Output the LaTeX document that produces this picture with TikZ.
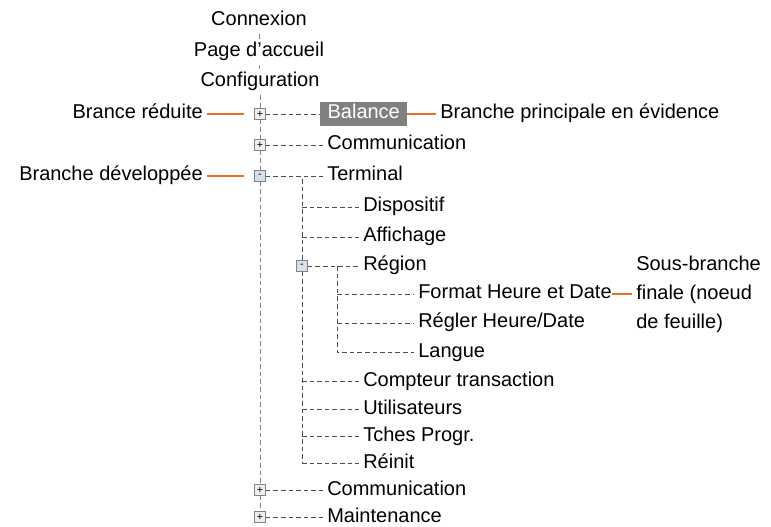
\documentclass[tikz,border=0pt]{standalone}
\usepackage{fontspec}
\setmainfont{Liberation Sans}
\definecolor{leadorange}{RGB}{233,113,35}
\definecolor{trunkgray}{RGB}{130,130,130}
\definecolor{togfill}{RGB}{238,238,238}
\definecolor{minusfill}{RGB}{214,224,236}
\definecolor{hilite}{RGB}{128,128,128}
\begin{document}
\begin{tikzpicture}[x=0.75pt,y=-0.75pt,
  lbl/.style={anchor=west,inner sep=3pt,text height=10.5pt,text depth=3pt,font=\fontsize{15}{17}\selectfont},
  tog/.style={draw=trunkgray,fill=togfill,minimum size=8.2pt,inner sep=0pt,font=\fontsize{8}{8}\selectfont},
  trunk/.style={trunkgray,line width=0.6pt,dash pattern=on 3.5pt off 2.2pt},
  twig/.style={black!70,line width=0.6pt,dash pattern=on 3.5pt off 2.2pt},
  lead/.style={leadorange,line width=1.5pt}]
\useasboundingbox (0,0) rectangle (771,527);
% menu items above the tree
\node[lbl,anchor=center] (cnx) at (259,21) {Connexion};
\node[lbl,anchor=center] (acc) at (259,52) {Page d’accueil};
\node[lbl,anchor=center] (cfg) at (260,82) {Configuration};
% expand / collapse boxes
\node[tog] (b1) at (260,114) {+};
\node[tog] (b2) at (260,145) {+};
\node[tog,fill=minusfill] (b3) at (260,176) {-};
\node[tog] (b4) at (260,490) {+};
\node[tog] (b5) at (260,517) {+};
\node[tog,fill=minusfill] (b6) at (302,266) {-};
% first level
\node[lbl,fill=hilite,text=white,inner xsep=5.5pt,inner ysep=2pt] (bal) at (320,114) {Balance};
\node[lbl] (com1) at (323,145) {Communication};
\node[lbl] (term) at (323,176) {Terminal};
\node[lbl] (com2) at (323,490) {Communication};
\node[lbl] (mnt) at (323,517) {Maintenance};
% second level
\node[lbl] (dispo) at (359,207) {Dispositif};
\node[lbl] (affi) at (359,237) {Affichage};
\node[lbl] (reg) at (359,266) {Région};
\node[lbl] (cpt) at (359,381) {Compteur transaction};
\node[lbl] (util) at (359,409) {Utilisateurs};
\node[lbl] (tch) at (359,436) {Tches Progr.};
\node[lbl] (rei) at (359,463) {Réinit};
% third level
\node[lbl] (fmt) at (414,294) {Format Heure et Date};
\node[lbl] (rgl) at (414,323) {Régler Heure/Date};
\node[lbl] (lng) at (414,352) {Langue};
% callouts
\node[lbl,anchor=east] (red) at (207,114) {Brance réduite};
\node[lbl,anchor=east] (dev) at (207,176) {Branche développée};
\node[lbl] (prin) at (436,114) {Branche principale en évidence};
\node[anchor=west,inner sep=3pt,align=left,font=\fontsize{15}{21.75}\selectfont] (leaf) at (632,294) {Sous-branche\\finale (noeud\\de feuille)};
% trunk
\draw[trunk] (cnx) -- (acc);
\draw[trunk] (acc) -- (cfg);
\draw[trunk] (cfg) -- (b1);
\draw[trunk] (b1) -- (b2);
\draw[trunk] (b2) -- (b3);
\draw[trunk] (b3) -- (b4);
\draw[trunk] (b4) -- (b5);
\draw[twig] (b1) -- (bal);
\draw[twig] (b2) -- (com1);
\draw[twig] (b3) -- (term);
\draw[twig] (b4) -- (com2);
\draw[twig] (b5) -- (mnt);
% Terminal branch
\coordinate (t2) at (302,179);
\coordinate (t2end) at (302,463);
\draw[twig] (t2) -- (b6);
\draw[twig] (b6) -- (t2end);
\draw[twig] (b6) -- (reg);
\foreach \n in {dispo,affi,cpt,util,tch,rei}
  \draw[twig] (t2 |- \n.west) -- (\n.west);
% Region branch
\coordinate (t3) at (337,266);
\draw[twig] (t3) |- (lng.west);
\draw[twig] (t3 |- fmt.west) -- (fmt.west);
\draw[twig] (t3 |- rgl.west) -- (rgl.west);
% orange leaders
\draw[lead,shorten >=8pt] (red) -- (b1);
\draw[lead,shorten >=8pt] (dev) -- (b3);
\draw[lead] (bal) -- (prin);
\draw[lead,shorten <=-3pt] (fmt) -- (leaf);
\end{tikzpicture}
\end{document}
